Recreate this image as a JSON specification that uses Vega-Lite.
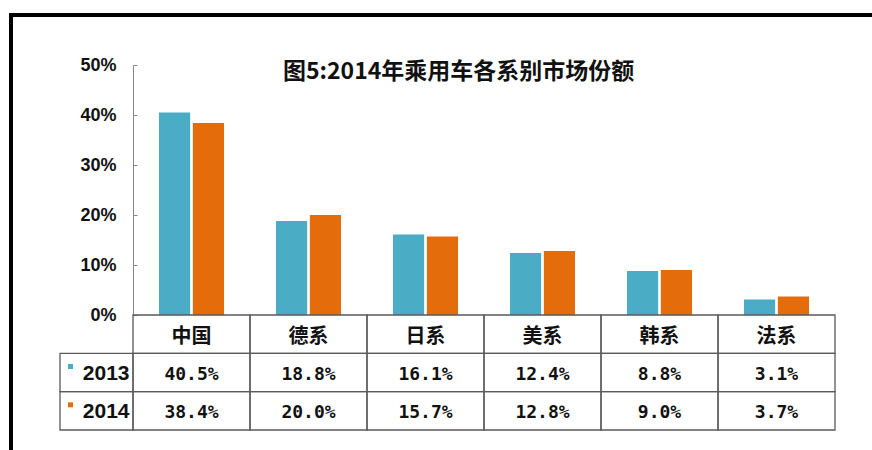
{
  "$schema": "https://vega.github.io/schema/vega-lite/v6.json",
  "width": 871,
  "height": 445,
  "autosize": "none",
  "padding": {"left": 11, "top": 15, "right": -10, "bottom": -10},
  "background": "white",
  "title": {
    "text": "图5:2014年乘用车各系别市场份额",
    "orient": "top",
    "anchor": "start",
    "frame": "group",
    "offset": 0,
    "dx": 272,
    "dy": 80,
    "baseline": "middle",
    "font": "Noto Sans CJK SC",
    "fontSize": 23,
    "fontWeight": "bold",
    "color": "#111111"
  },
  "data": {
    "values": [
      {"cat": "中国", "year": "2013", "value": 0.405},
      {"cat": "中国", "year": "2014", "value": 0.384},
      {"cat": "德系", "year": "2013", "value": 0.188},
      {"cat": "德系", "year": "2014", "value": 0.200},
      {"cat": "日系", "year": "2013", "value": 0.161},
      {"cat": "日系", "year": "2014", "value": 0.157},
      {"cat": "美系", "year": "2013", "value": 0.124},
      {"cat": "美系", "year": "2014", "value": 0.128},
      {"cat": "韩系", "year": "2013", "value": 0.088},
      {"cat": "韩系", "year": "2014", "value": 0.090},
      {"cat": "法系", "year": "2013", "value": 0.031},
      {"cat": "法系", "year": "2014", "value": 0.037}
    ]
  },
  "resolve": {"scale": {"x": "independent", "y": "independent", "color": "independent", "xOffset": "independent"}},
  "layer": [
    {
      "mark": {"type": "bar"},
      "encoding": {
        "x": {"field": "cat", "type": "nominal", "sort": null,
              "scale": {"type": "band", "domain": ["中国", "德系", "日系", "美系", "韩系", "法系"], "range": [122, 824], "paddingInner": 0.444, "paddingOuter": 0.222},
              "axis": null},
        "xOffset": {"field": "year", "type": "nominal", "scale": {"paddingInner": 0.08}},
        "y": {"field": "value", "type": "quantitative",
              "scale": {"domain": [0, 0.5], "range": [300, 50], "nice": false},
              "axis": {"values": [0, 0.1, 0.2, 0.3, 0.4, 0.5], "format": ".0%", "offset": -122,
                       "domainColor": "#868686", "tickColor": "#868686", "tickSize": -4,
                       "labelPadding": 21, "labelFont": "Liberation Sans", "labelFontSize": 18,
                       "labelFontWeight": "bold", "labelColor": "#111111", "grid": false, "title": null,
                       "labelFlush": false, "labelOverlap": false}},
        "color": {"field": "year", "type": "nominal",
                  "scale": {"domain": ["2013", "2014"], "range": ["#4BACC6", "#E46C0A"]}, "legend": null}
      }
    },
    {
      "transform": [{"filter": "datum.year == '2013'"}],
      "mark": {"type": "rect", "fill": "transparent", "stroke": "#5a5a5a", "strokeWidth": 1.3},
      "encoding": {
        "x": {"field": "cat", "type": "nominal", "sort": null,
              "scale": {"type": "band", "domain": ["中国", "德系", "日系", "美系", "韩系", "法系"], "range": [122, 824], "padding": 0}, "axis": null},
        "y": {"datum": "hdr", "type": "nominal",
              "scale": {"type": "band", "domain": ["hdr", "2013", "2014"], "range": [300, 415], "padding": 0}, "axis": null}
      }
    },
    {
      "mark": {"type": "rect", "fill": "transparent", "stroke": "#5a5a5a", "strokeWidth": 1.3},
      "encoding": {
        "x": {"field": "cat", "type": "nominal", "sort": null,
              "scale": {"type": "band", "domain": ["中国", "德系", "日系", "美系", "韩系", "法系"], "range": [122, 824], "padding": 0}, "axis": null},
        "y": {"field": "year", "type": "nominal",
              "scale": {"type": "band", "domain": ["hdr", "2013", "2014"], "range": [300, 415], "padding": 0}, "axis": null}
      }
    },
    {
      "transform": [{"filter": "datum.year == '2013'"}],
      "mark": {"type": "text", "font": "Noto Sans CJK SC", "fontSize": 20, "fontWeight": "bold", "color": "#111111", "dy": 3},
      "encoding": {
        "x": {"field": "cat", "type": "nominal", "sort": null,
              "scale": {"type": "band", "domain": ["中国", "德系", "日系", "美系", "韩系", "法系"], "range": [122, 824], "padding": 0}, "axis": null},
        "y": {"datum": "hdr", "type": "nominal",
              "scale": {"type": "band", "domain": ["hdr", "2013", "2014"], "range": [300, 415], "padding": 0}, "axis": null},
        "text": {"field": "cat", "type": "nominal"}
      }
    },
    {
      "mark": {"type": "text", "font": "DejaVu Sans Mono", "fontSize": 18, "fontWeight": "bold", "color": "#111111", "dy": 2},
      "encoding": {
        "x": {"field": "cat", "type": "nominal", "sort": null,
              "scale": {"type": "band", "domain": ["中国", "德系", "日系", "美系", "韩系", "法系"], "range": [122, 824], "padding": 0}, "axis": null},
        "y": {"field": "year", "type": "nominal",
              "scale": {"type": "band", "domain": ["hdr", "2013", "2014"], "range": [300, 415], "padding": 0}, "axis": null},
        "text": {"field": "value", "type": "quantitative", "format": ".1%"}
      }
    },
    {
      "transform": [{"filter": "datum.cat == '中国'"}],
      "mark": {"type": "rect", "fill": "transparent", "stroke": "#5a5a5a", "strokeWidth": 1.3},
      "encoding": {
        "x": {"datum": "leg", "type": "nominal", "scale": {"type": "band", "domain": ["leg"], "range": [49, 122], "padding": 0}, "axis": null},
        "y": {"field": "year", "type": "nominal",
              "scale": {"type": "band", "domain": ["hdr", "2013", "2014"], "range": [300, 415], "padding": 0}, "axis": null}
      }
    },
    {
      "transform": [{"filter": "datum.cat == '中国'"}],
      "mark": {"type": "text", "font": "Liberation Sans", "fontSize": 21, "fontWeight": "bold", "color": "#111111", "align": "right", "dx": 33, "dy": 1},
      "encoding": {
        "x": {"datum": "leg", "type": "nominal", "scale": {"type": "band", "domain": ["leg"], "range": [49, 122], "padding": 0}, "axis": null},
        "y": {"field": "year", "type": "nominal",
              "scale": {"type": "band", "domain": ["hdr", "2013", "2014"], "range": [300, 415], "padding": 0}, "axis": null},
        "text": {"field": "year", "type": "nominal"}
      }
    },
    {
      "transform": [{"filter": "datum.cat == '中国'"}],
      "mark": {"type": "point", "shape": "square", "filled": true, "size": 25, "opacity": 1, "xOffset": -26, "yOffset": -6},
      "encoding": {
        "x": {"datum": "leg", "type": "nominal", "scale": {"type": "band", "domain": ["leg"], "range": [49, 122], "padding": 0}, "axis": null},
        "y": {"field": "year", "type": "nominal",
              "scale": {"type": "band", "domain": ["hdr", "2013", "2014"], "range": [300, 415], "padding": 0}, "axis": null},
        "color": {"field": "year", "type": "nominal",
                  "scale": {"domain": ["2013", "2014"], "range": ["#4BACC6", "#E46C0A"]}, "legend": null}
      }
    }
  ],
  "config": {"view": {"stroke": "#000000", "strokeWidth": 4}}
}
